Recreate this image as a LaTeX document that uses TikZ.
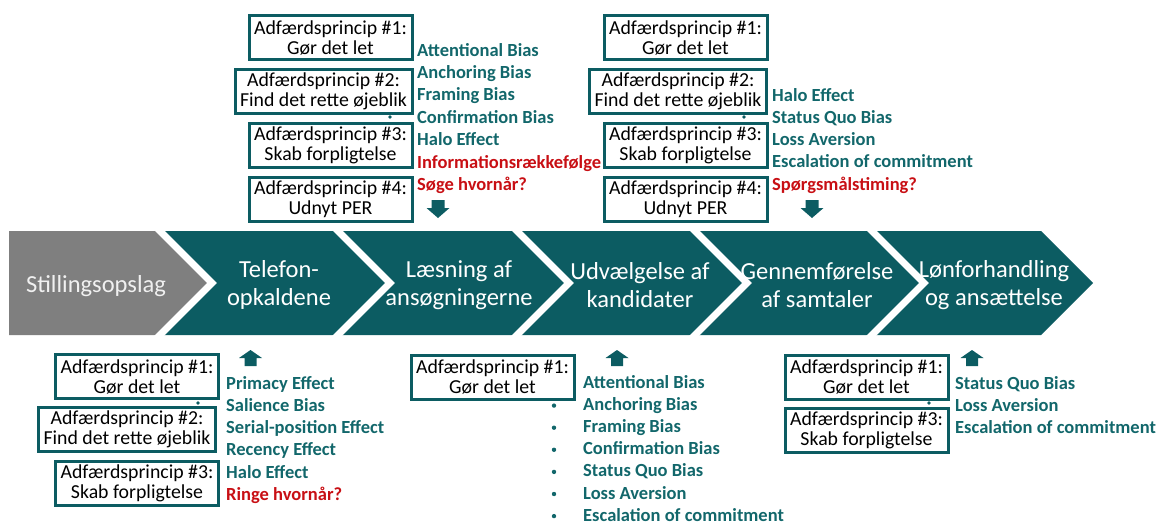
\documentclass[tikz,border=0pt]{standalone}
\usepackage{fontspec}
\setmainfont{Carlito}
\definecolor{tealc}{HTML}{0C5C62}
\definecolor{lblc}{HTML}{12676B}
\definecolor{grayc}{HTML}{7F7F7F}
\definecolor{redc}{HTML}{C80F14}
\begin{document}
\begin{tikzpicture}[x=1pt,y=-1pt,
  pbox/.style={draw=tealc, line width=3pt, fill=white, inner sep=0pt, align=center,
    minimum height=44pt, minimum width=163pt, text=black, font=\fontsize{19.8}{20}\selectfont},
  widebox/.style={pbox, minimum width=177pt},
  lbl/.style={anchor=base west, inner sep=0pt, text depth=0pt, text=lblc, font=\bfseries\fontsize{18.5}{22}\selectfont},
  lred/.style={lbl, text=redc},
  chev/.style={align=center, inner sep=0pt, text=white, font=\fontsize{24.5}{28}\selectfont},
  junction/.style={white, line width=7pt},
  dnarrow/.pic={\fill[tealc] (-6.5,0) -- (6.5,0) -- (6.5,8) -- (11.5,8) -- (0,18) -- (-11.5,8) -- (-6.5,8) -- cycle;},
  uparrow/.pic={\fill[tealc] (0,0) -- (11.5,8) -- (6,8) -- (6,16) -- (-6,16) -- (-6,8) -- (-11.5,8) -- cycle;}
]
\useasboundingbox (0,0) rectangle (1165,525);

% process band
\fill[grayc] (9,231) -- (160,231) -- (212,283) -- (160,335) -- (9,335) -- cycle;
\fill[tealc] (160,231) -- (1041,231) -- (1093,283) -- (1041,335) -- (160,335) -- (212,283) -- cycle;
\foreach \j in {160,338,517,695,872}
  \draw[junction] (\j-4,227) -- (\j+52,283) -- (\j-4,339);

\node[chev, text=white!94!black] (c0) at (96,286) {Stillingsopslag};
\node[chev] (c1) at (279,285) {Telefon-\\opkaldene};
\node[chev] (c2) at (459,285) {Læsning af\\ansøgningerne};
\node[chev] (c3) at (640,285) {Udvælgelse af\\kandidater};
\node[chev] (c4) at (817,285) {Gennemførelse\\af samtaler};
\node[chev] (c5) at (994,285) {Lønforhandling\\og ansættelse};

% ---------- top group 1 (Læsning af ansøgningerne)
\foreach \t [count=\i from 0] in {Attentional Bias, Anchoring Bias, Framing Bias, Confirmation Bias, Halo Effect}
  \node[lbl] (ta\i) at (417,56+22.4*\i) {\t};
\node[lred] (ta5) at (417,56+22.4*5) {Informationsrækkefølge};
\node[lred] (ta6) at (417,56+22.4*6) {Søge hvornår?};
\pic at (438,200) {dnarrow};
\fill[tealc] (390,117) circle (1.8pt);
\node[pbox] (ta-b1) at (330.5,37.5) {Adfærdsprincip \#1:\\Gør det let};
\node[widebox] (ta-b2) at (323.5,91.5) {Adfærdsprincip \#2:\\Find det rette øjeblik};
\node[pbox] (ta-b3) at (330.5,145) {Adfærdsprincip \#3:\\Skab forpligtelse};
\node[pbox] (ta-b4) at (330.5,199.5) {Adfærdsprincip \#4:\\Udnyt PER};

% ---------- top group 2 (Gennemførelse af samtaler)
\foreach \t [count=\i from 0] in {Halo Effect, Status Quo Bias, Loss Aversion, Escalation of commitment}
  \node[lbl] (tb\i) at (772,101+22.3*\i) {\t};
\node[lred] (tb4) at (772,101+22.3*4) {Spørgsmålstiming?};
\pic at (812,200) {dnarrow};
\fill[tealc] (744,117) circle (1.8pt);
\node[pbox] (tb-b1) at (685.5,37.5) {Adfærdsprincip \#1:\\Gør det let};
\node[widebox] (tb-b2) at (678,91.5) {Adfærdsprincip \#2:\\Find det rette øjeblik};
\node[pbox] (tb-b3) at (685.5,145) {Adfærdsprincip \#3:\\Skab forpligtelse};
\node[pbox] (tb-b4) at (685.5,199.5) {Adfærdsprincip \#4:\\Udnyt PER};

% ---------- bottom group 1 (Telefonopkaldene)
\foreach \t [count=\i from 0] in {Primacy Effect, Salience Bias, Serial-position Effect, Recency Effect, Halo Effect}
  \node[lbl] (ba\i) at (226,389+22.3*\i) {\t};
\node[lred] (ba5) at (226,389+22.3*5) {Ringe hvornår?};
\pic at (250.5,350) {uparrow};
\fill[tealc] (198,403) circle (1.8pt);
\node[pbox] (ba-b1) at (137,376.5) {Adfærdsprincip \#1:\\Gør det let};
\node[widebox] (ba-b2) at (127,429.5) {Adfærdsprincip \#2:\\Find det rette øjeblik};
\node[pbox] (ba-b3) at (137,483.5) {Adfærdsprincip \#3:\\Skab forpligtelse};

% ---------- bottom group 2 (Udvælgelse af kandidater)
\foreach \t [count=\i from 0] in {Attentional Bias, Anchoring Bias, Framing Bias, Confirmation Bias, Status Quo Bias, Loss Aversion, Escalation of commitment}{
  \node[lbl] (bb\i) at (583,388.5+22.1*\i) {\t};
  \fill[lblc] (554,383.5+22.1*\i) circle (2.2pt);
}
\pic at (617,350) {uparrow};
\node[pbox] (bb-b1) at (492.5,377) {Adfærdsprincip \#1:\\Gør det let};

% ---------- bottom group 3 (Lønforhandling og ansættelse)
\foreach \t [count=\i from 0] in {Status Quo Bias, Loss Aversion, Escalation of commitment}
  \node[lbl] (bc\i) at (955,389+22.3*\i) {\t};
\pic at (972,350) {uparrow};
\fill[tealc] (929,403) circle (1.8pt);
\node[pbox] (bc-b1) at (866.5,377) {Adfærdsprincip \#1:\\Gør det let};
\node[pbox] (bc-b2) at (866.5,430) {Adfærdsprincip \#3:\\Skab forpligtelse};
\end{tikzpicture}
\end{document}
